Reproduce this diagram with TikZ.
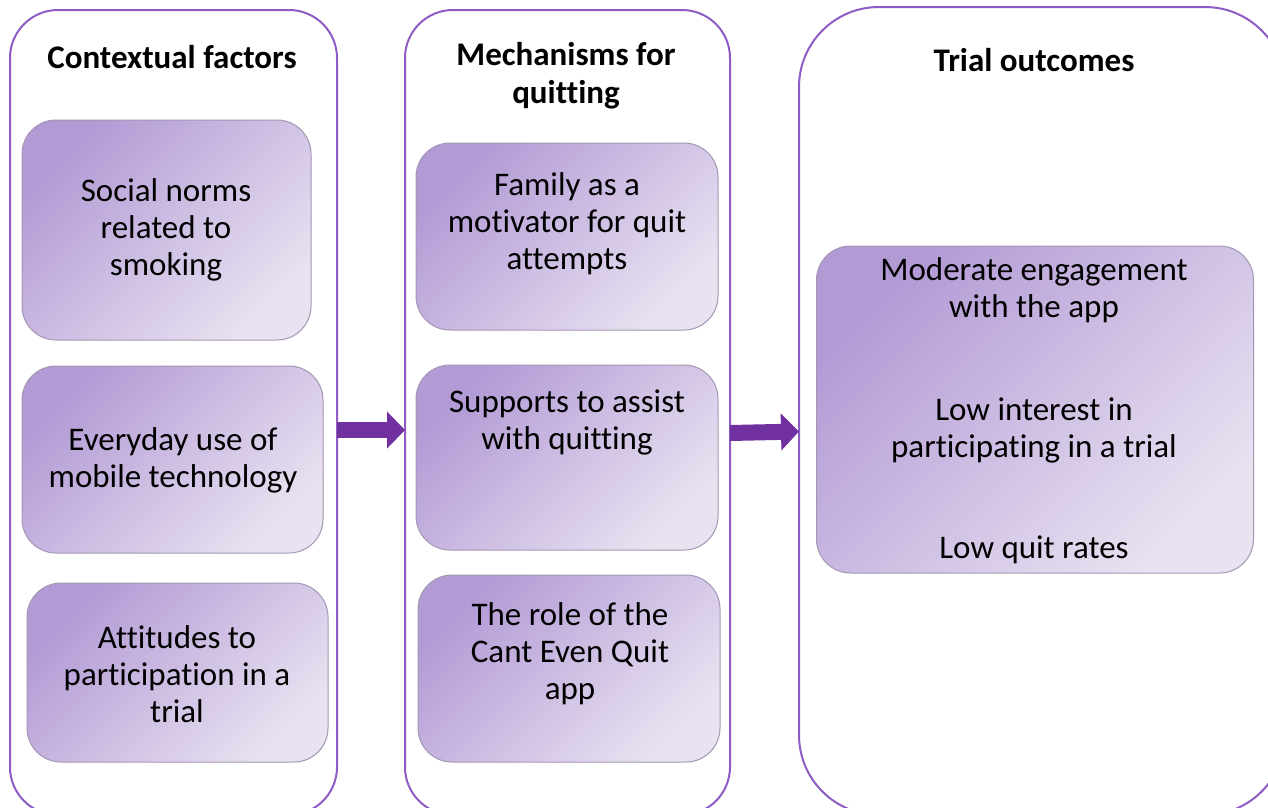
\documentclass[tikz,border=0pt]{standalone}
\usepackage{fontspec}
\setmainfont{Carlito}[RawFeature=-liga]
\usetikzlibrary{arrows.meta}
\definecolor{panelc}{HTML}{8E5CC4}
\definecolor{arrowc}{HTML}{7030A0}
\definecolor{darkf}{HTML}{B29AD5}
\definecolor{lightf}{HTML}{E9E2F1}
\definecolor{boxline}{HTML}{A497B4}
\tikzset{
  panel/.style={draw=panelc, line width=2pt, fill=white, rectangle, inner sep=0pt, outer sep=0pt, rounded corners=48pt},
  boxc/.style={draw=boxline, line width=1pt, rectangle, inner sep=0pt, outer sep=0pt, rounded corners=34pt,
     top color=darkf, bottom color=lightf, shading angle=45},
  body/.style={align=center, font=\fontsize{33}{37}\selectfont, inner sep=0pt},
  ttl/.style={align=center, font=\fontsize{33}{38}\selectfont\bfseries, inner sep=0pt},
  bigarrow/.style={draw=arrowc, line width=16pt, -{Triangle[length=18pt,width=36pt]}, arrowc}
}
\begin{document}
\begin{tikzpicture}[x=1pt,y=-1pt]
\useasboundingbox (0,0) rectangle (1268,807);
\clip (0,0) rectangle (1268,807);
% panels
\node[panel, minimum width=327pt, minimum height=805pt] (p1) at (173.5,412.5) {};
\node[panel, minimum width=325pt, minimum height=805pt] (p2) at (567.5,412.5) {};
\node[panel, rounded corners=80pt, minimum width=486pt, minimum height=808pt] (p3) at (1042,411) {};
% titles
\node[ttl] (t1) at (172,57) {Contextual factors};
\node[ttl] (t2) at (566,76) {Mechanisms for\\quitting};
\node[ttl] (t3) at (1034,60) {Trial outcomes};
% boxes column 1
\node[boxc, minimum width=289pt, minimum height=220pt] (b1) at (166.5,230) {};
\node[boxc, minimum width=301pt, minimum height=187pt] (b2) at (172.5,459.5) {};
\node[boxc, minimum width=301pt, minimum height=179pt] (b3) at (177.5,672.5) {};
% boxes column 2
\node[boxc, minimum width=302pt, minimum height=187pt] (b4) at (567,236.5) {};
\node[boxc, minimum width=302pt, minimum height=185pt] (b5) at (567,457.5) {};
\node[boxc, minimum width=302pt, minimum height=187pt] (b6) at (569,668.5) {};
% box column 3
\node[boxc, minimum width=437pt, minimum height=327pt] (b7) at (1035,409.5) {};
% texts
\node[body] (x1) at (166,230) {Social norms\\related to\\smoking};
\node[body] (x2) at (173,460) {Everyday use of\\mobile technology};
\node[body] (x3) at (177,674) {Attitudes to\\participation in a\\trial};
\node[body] (x4) at (567,224) {Family as a\\motivator for quit\\attempts};
\node[body] (x5) at (567,422) {Supports to assist\\with quitting};
\node[body] (x6) at (570,654) {The role of the\\Cant Even Quit\\app};
\node[body] (x7a) at (1034,290) {Moderate engagement\\with the app};
\node[body] (x7b) at (1034,430) {Low interest in\\participating in a trial};
\node[body] (x7c) at (1034,550) {Low quit rates};
% arrows
\draw[bigarrow] ([yshift=-17.5pt]p1.east) -- ([yshift=-17.5pt]p2.west);
\draw[bigarrow] ([yshift=-20.5pt]p2.east) -- ([yshift=-20.5pt]p3.west);
\end{tikzpicture}
\end{document}
